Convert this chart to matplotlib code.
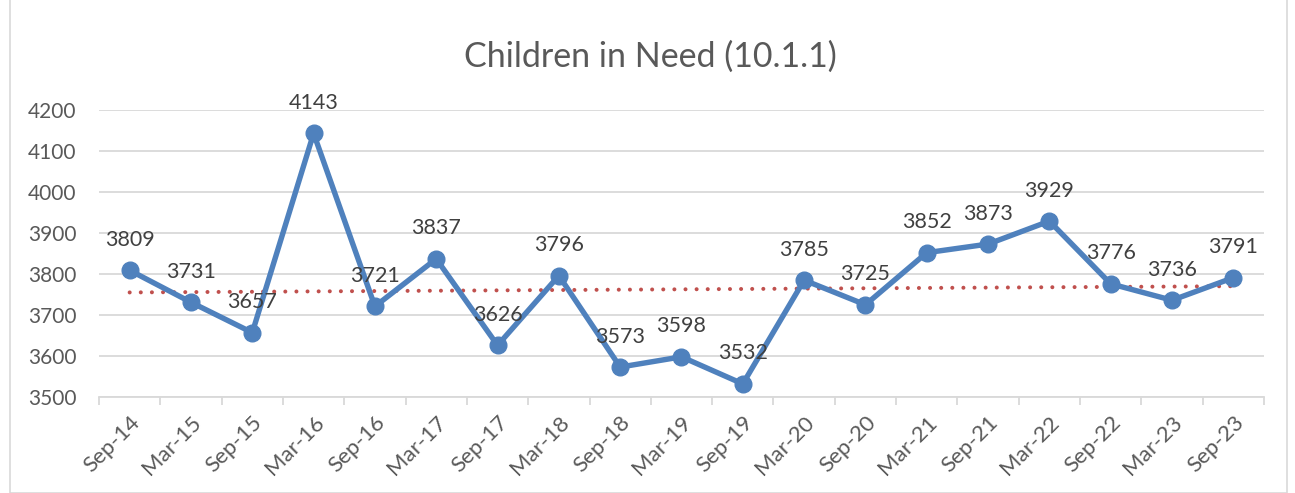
import matplotlib
matplotlib.use("Agg")
import matplotlib.pyplot as plt
import numpy as np
from matplotlib.patches import Rectangle

categories = ["Sep-14", "Mar-15", "Sep-15", "Mar-16", "Sep-16", "Mar-17", "Sep-17",
              "Mar-18", "Sep-18", "Mar-19", "Sep-19", "Mar-20", "Sep-20", "Mar-21",
              "Sep-21", "Mar-22", "Sep-22", "Mar-23", "Sep-23"]
values = [3809, 3731, 3657, 4143, 3721, 3837, 3626, 3796, 3573, 3598, 3532,
          3785, 3725, 3852, 3873, 3929, 3776, 3736, 3791]
y_ticks = [3500, 3600, 3700, 3800, 3900, 4000, 4100, 4200]
title = "Children in Need (10.1.1)"

plt.rcParams['font.family'] = ['Lato', 'DejaVu Sans']

W, H = 1295, 493
fig = plt.figure(figsize=(W / 100, H / 100), dpi=100)
fig.patch.set_facecolor("white")

# chart border
fig.patches.append(Rectangle((10 / W, 0.5 / H), 1277 / W, 1.2, transform=fig.transFigure,
                             fill=False, edgecolor="#D9D9D9", linewidth=1.2))

left, right, top, bottom = 99, 1264, 110, 397
ax = fig.add_axes([left / W, 1 - bottom / H, (right - left) / W, (bottom - top) / H])

x = np.arange(len(values))
ax.set_xlim(-0.5, len(values) - 0.5)
ax.set_ylim(3500, 4200)

ax.set_yticks(y_ticks)
ax.set_yticklabels([str(v) for v in y_ticks])
ax.grid(axis="y", color="#D9D9D9", linewidth=1.3, zorder=0)
ax.set_axisbelow(True)

for s in ["top", "right", "left"]:
    ax.spines[s].set_visible(False)
ax.spines["bottom"].set_color("#D9D9D9")
ax.spines["bottom"].set_linewidth(1.3)

ax.tick_params(axis="y", length=0, pad=16, labelsize=15, labelcolor="#595959")
ax.set_xticks(x)
ax.set_xticklabels(categories, rotation=45, ha="right", rotation_mode="anchor")
ax.tick_params(axis="x", which="major", length=0, pad=11, labelsize=16, labelcolor="#595959")
ax.set_xticks(np.arange(-0.5, len(values), 1.0), minor=True)
ax.tick_params(axis="x", which="minor", length=6, width=1.3, color="#D9D9D9")

# trendline (linear fit)
coef = np.polyfit(x, values, 1)
ax.plot(x, np.polyval(coef, x), linestyle=(0, (0.01, 2.75)), color="#C0504D",
        linewidth=2.9, dash_capstyle="round", zorder=2)

ax.plot(x, values, color="#4F81BD", linewidth=3.9, marker="o", markersize=12,
        markerfacecolor="#4F81BD", markeredgecolor="#4F81BD", zorder=3, clip_on=False)

for xi, v in zip(x, values):
    ax.annotate(str(v), (xi, v), xytext=(0, 22), textcoords="offset points",
                ha="center", va="center", fontsize=15.5, color="#404040", zorder=4)

fig.text(650 / W, 1 - 57 / H, title, ha="center", va="center", fontsize=24.5, color="#595959")

fig.savefig("out.png", dpi=100, facecolor="white")
